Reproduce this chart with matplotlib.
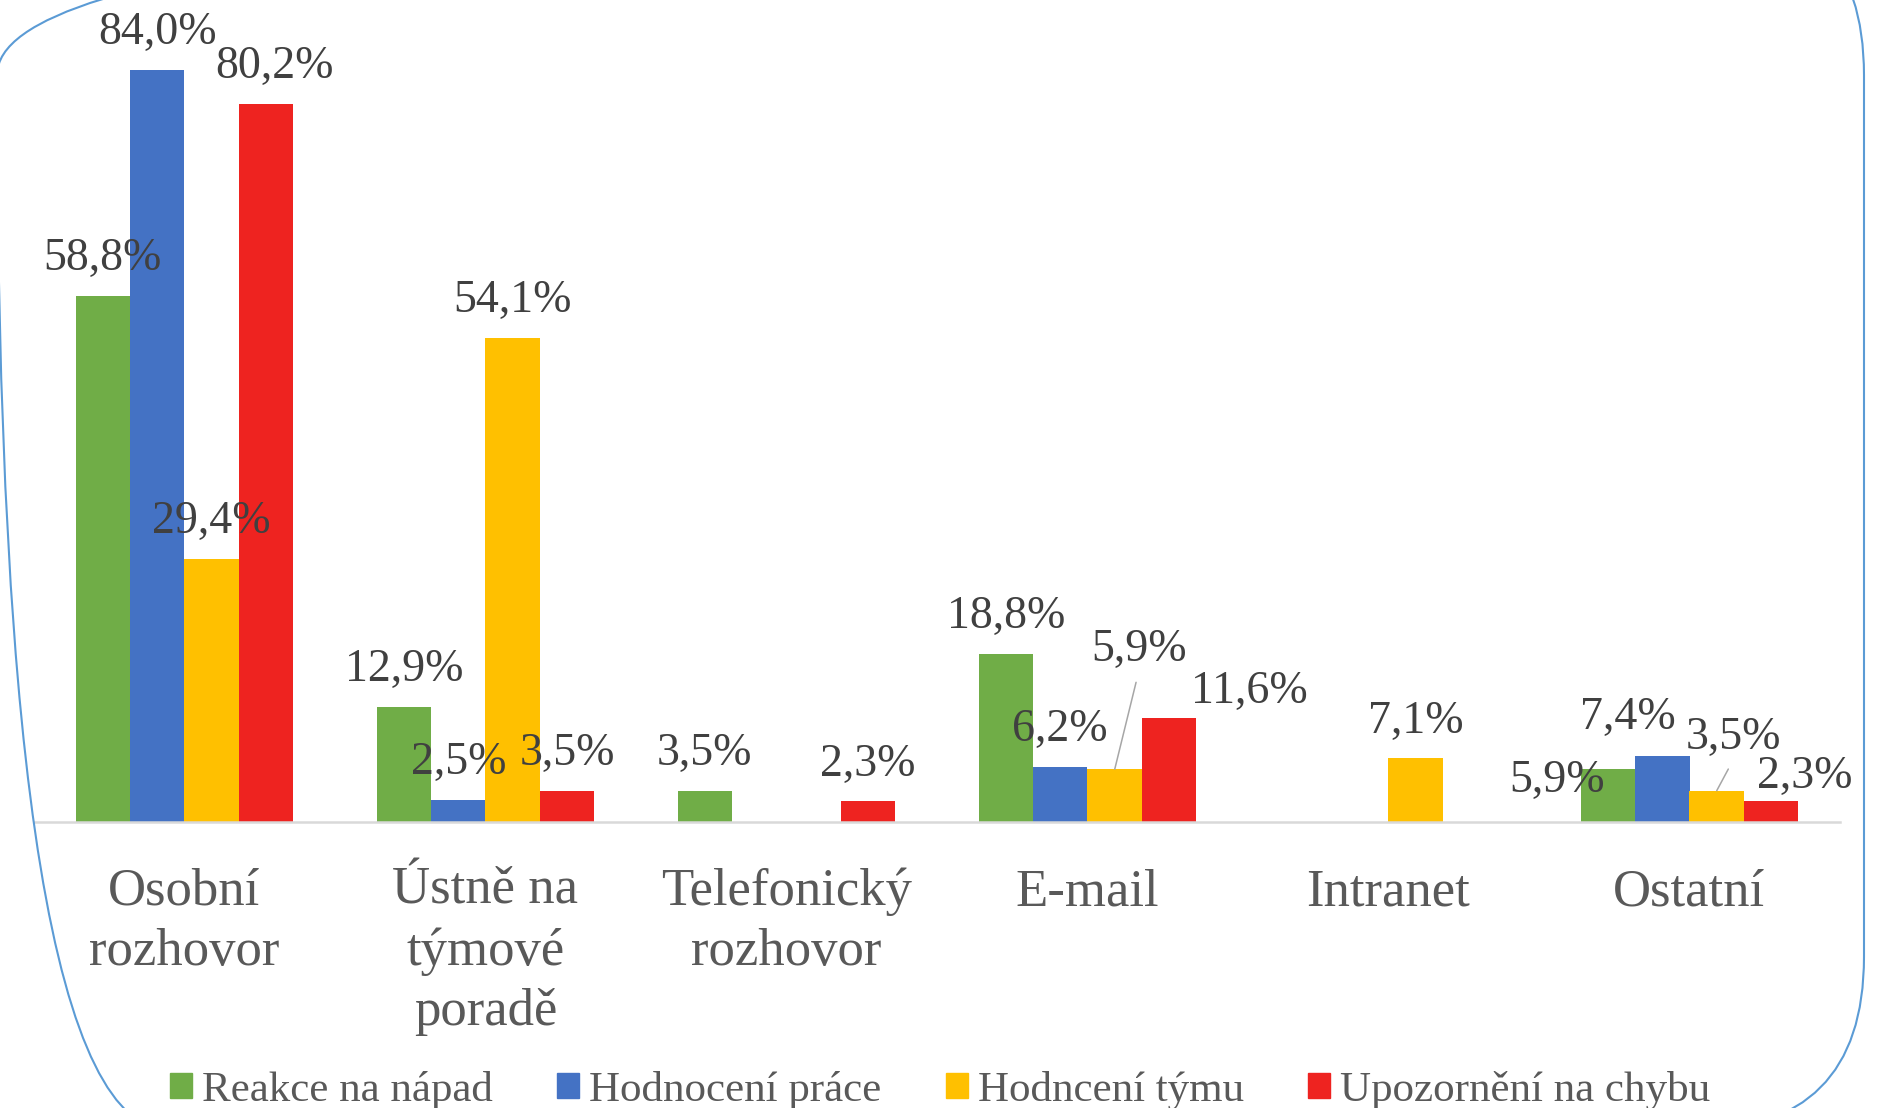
import matplotlib
matplotlib.use('Agg')
import matplotlib.pyplot as plt
import numpy as np
from matplotlib.patches import FancyBboxPatch, Patch
from matplotlib.transforms import IdentityTransform

# Data (percent of each series)
categories = ['Osobní\nrozhovor', 'Ústně na\ntýmové\nporadě', 'Telefonický\nrozhovor',
              'E-mail', 'Intranet', 'Ostatní']
series_names = ['Reakce na nápad', 'Hodnocení práce', 'Hodncení týmu', 'Upozornění na chybu']
reakce = [58.8, 12.9, 3.5, 18.8, 0, 5.9]
hodnoceni_prace = [84.0, 2.5, 0, 6.2, 0, 7.4]
hodnoceni_tymu = [29.4, 54.1, 0, 5.9, 7.1, 3.5]
upozorneni = [80.2, 3.5, 2.3, 11.6, 0, 2.3]
colors = ['#70AD47', '#4472C4', '#FFC000', '#EE2320']

series = [reakce, hodnoceni_prace, hodnoceni_tymu, upozorneni]

# manual label moves (pixels), like the hand-placed labels in the original
label_moves = {(3, 0): (8, 37), (2, 3): (24, 119), (3, 3): (80, 26),
               (0, 5): (-51, -12), (1, 5): (-34, 38), (2, 5): (17, 53), (3, 5): (34, 25)}
leader = [(2, 3), (2, 5)]

W, H = 1899, 1108
fig = plt.figure(figsize=(W / 100, H / 100), dpi=100)
ax = fig.add_axes([34 / W, 286 / H, 1806 / W, 805.5 / H])

x = np.arange(len(categories))
bw = 0.181
for i, vals in enumerate(series):
    xs = x + (i - 1.5) * bw
    ax.bar(xs, vals, width=bw, color=colors[i], label=series_names[i])
    for j, v in enumerate(vals):
        if v == 0:
            continue
        dx, dy = label_moves.get((i, j), (0, 37))
        txt = f"{v:.1f}".replace('.', ',') + '%'
        kw = {}
        if (i, j) in leader:
            kw['arrowprops'] = dict(arrowstyle='-', color='#A6A6A6', lw=1.1,
                                    relpos=(0.5, 0), shrinkA=6, shrinkB=0)
        ax.annotate(txt, xy=(xs[j], v), xytext=(dx, dy), textcoords='offset pixels',
                    ha='center', va='center', fontsize=33, color='#404040',
                    family='Liberation Serif', **kw)

ax.set_xlim(-0.5, len(categories) - 0.5)
ax.set_ylim(0, 90)
ax.set_yticks([])
ax.set_xticks(x, categories)
ax.tick_params(axis='x', length=0, labelsize=38, labelcolor='#595959')
# baseline alignment uses the last line, so pad grows with the number of lines
for tick, cat in zip(ax.xaxis.get_major_ticks(), categories):
    nlines = cat.count('\n') + 1
    tick.set_pad((83 + 60 * (nlines - 1)) * 0.72)
    tick.label1.set_family('Liberation Serif')
    tick.label1.set_va('baseline')
    tick.label1.set_linespacing(1.336)
for s in ['top', 'left', 'right']:
    ax.spines[s].set_visible(False)
ax.spines['bottom'].set_color('#D9D9D9')
ax.spines['bottom'].set_linewidth(1.8)
ax.patch.set_alpha(0)

handles = [Patch(color=c) for c in colors]
fig.legend(handles, series_names, loc='center', bbox_to_anchor=(940 / W, 1 - 1090 / H),
           ncol=4, frameon=False, handlelength=0.51, handleheight=0.51,
           handletextpad=0.23, columnspacing=1.5,
           prop={'family': 'Liberation Serif', 'size': 31}, labelcolor='#595959')

# rounded chart border, mostly outside the picture
border = FancyBboxPatch((-3, -23), 1867, 1230, boxstyle='round,pad=0,rounding_size=174',
                        transform=IdentityTransform(), fill=False, edgecolor='#5B9BD5', lw=1.5)
fig.add_artist(border)

fig.savefig('out.png', dpi=100)
